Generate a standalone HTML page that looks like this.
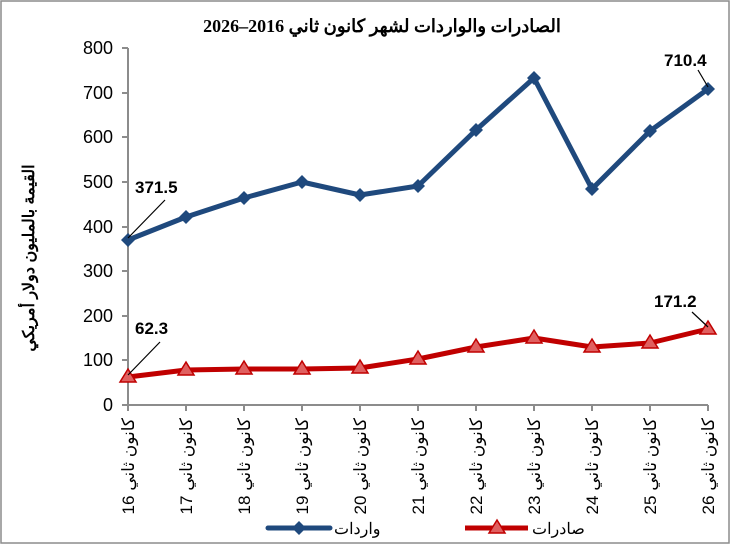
<!DOCTYPE html>
<html><head><meta charset="utf-8"><style>body{margin:0;background:#fff}</style></head><body>
<svg width="731" height="545" xmlns="http://www.w3.org/2000/svg" font-family="'Liberation Sans','Noto Sans CJK SC',sans-serif">
<rect x="1" y="1" width="728" height="542" fill="#fff" stroke="#8c8c8c" stroke-width="1.5"/>
<text x="382" y="32" text-anchor="middle" font-family="'Liberation Serif',serif" font-weight="bold" font-size="18">الصادرات والواردات لشهر كانون ثاني 2016–2026</text>
<g stroke="#8c8c8c" stroke-width="2" fill="none">
<path d="M128 48V405H708"/>
<path d="M122 48H128M122 93H128M122 137H128M122 182H128M122 227H128M122 271H128M122 316H128M122 360H128M122 405H128"/>
<path d="M128 405v6M186 405v6M244 405v6M302 405v6M360 405v6M418 405v6M476 405v6M534 405v6M592 405v6M650 405v6M708 405v6"/>
</g>
<g font-size="18" text-anchor="end">
<text x="113" y="54">800</text><text x="113" y="99">700</text><text x="113" y="143">600</text><text x="113" y="188">500</text><text x="113" y="233">400</text><text x="113" y="277">300</text><text x="113" y="322">200</text><text x="113" y="366">100</text><text x="113" y="411">0</text>
</g>
<text transform="translate(34 258) rotate(-90)" text-anchor="middle" font-weight="bold" font-size="16">القيمة بالمليون دولار أمريكي</text>
<g font-size="17" text-anchor="end">
<text transform="translate(134 418) rotate(-90)">كانون ثاني 16</text>
<text transform="translate(192 418) rotate(-90)">كانون ثاني 17</text>
<text transform="translate(250 418) rotate(-90)">كانون ثاني 18</text>
<text transform="translate(308 418) rotate(-90)">كانون ثاني 19</text>
<text transform="translate(366 418) rotate(-90)">كانون ثاني 20</text>
<text transform="translate(424 418) rotate(-90)">كانون ثاني 21</text>
<text transform="translate(482 418) rotate(-90)">كانون ثاني 22</text>
<text transform="translate(540 418) rotate(-90)">كانون ثاني 23</text>
<text transform="translate(598 418) rotate(-90)">كانون ثاني 24</text>
<text transform="translate(656 418) rotate(-90)">كانون ثاني 25</text>
<text transform="translate(714 418) rotate(-90)">كانون ثاني 26</text>
</g>
<polyline fill="none" stroke="#1f497d" stroke-width="5" stroke-linejoin="round" points="128,240 186,217 244,198 302,182 360,195 418,186 476,130 534,78 592,189 650,131 708,89"/>
<g fill="#1f497d">
<path d="M128 233l7 7-7 7-7-7z"/><path d="M186 210l7 7-7 7-7-7z"/><path d="M244 191l7 7-7 7-7-7z"/><path d="M302 175l7 7-7 7-7-7z"/><path d="M360 188l7 7-7 7-7-7z"/><path d="M418 179l7 7-7 7-7-7z"/><path d="M476 123l7 7-7 7-7-7z"/><path d="M534 71l7 7-7 7-7-7z"/><path d="M592 182l7 7-7 7-7-7z"/><path d="M650 124l7 7-7 7-7-7z"/><path d="M708 82l7 7-7 7-7-7z"/>
</g>
<polyline fill="none" stroke="#c00000" stroke-width="5" stroke-linejoin="round" points="128,377 186,370 244,369 302,369 360,368 418,359 476,347 534,338 592,347 650,343 708,329"/>
<g fill="#e06060" stroke="#c00000" stroke-width="1.5">
<path d="M128 369l8 13h-16z"/><path d="M186 362l8 13h-16z"/><path d="M244 361l8 13h-16z"/><path d="M302 361l8 13h-16z"/><path d="M360 360l8 13h-16z"/><path d="M418 351l8 13h-16z"/><path d="M476 339l8 13h-16z"/><path d="M534 330l8 13h-16z"/><path d="M592 339l8 13h-16z"/><path d="M650 335l8 13h-16z"/><path d="M708 321l8 13h-16z"/>
</g>
<g stroke="#000" stroke-width="1.2">
<line x1="128" y1="238" x2="165" y2="200"/><line x1="128" y1="375" x2="160" y2="342"/>
<line x1="708" y1="87" x2="698" y2="70"/><line x1="708" y1="327" x2="692" y2="312"/>
</g>
<g font-weight="bold" font-size="17">
<text x="135" y="193">371.5</text><text x="135" y="334">62.3</text>
<text x="664" y="66">710.4</text><text x="654" y="307">171.2</text>
</g>
<line x1="268" y1="528" x2="330" y2="528" stroke="#1f497d" stroke-width="5" stroke-linecap="round"/>
<path d="M299 521l7 7-7 7-7-7z" fill="#1f497d"/>
<text x="334" y="534" font-size="16">واردات</text>
<line x1="465" y1="528" x2="528" y2="528" stroke="#c00000" stroke-width="5"/>
<path d="M497 520l8 13h-16z" fill="#e06060" stroke="#c00000" stroke-width="1.5"/>
<text x="532" y="534" font-size="16">صادرات</text>
</svg>
</body></html>
